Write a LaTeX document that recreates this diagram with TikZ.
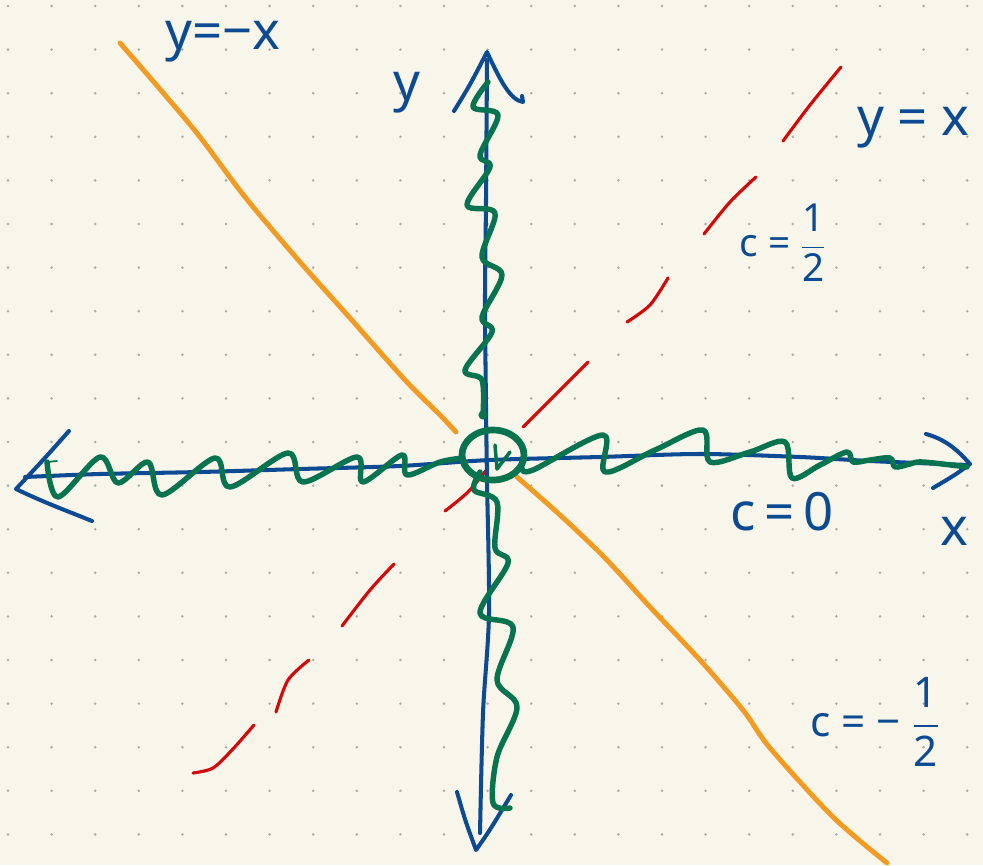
\documentclass[tikz,border=0pt]{standalone}
\usepackage{amsmath}
\usepackage{fontspec}
\setmainfont{Noto Sans}
\definecolor{bgc}{HTML}{F8F6EB}
\definecolor{dotc}{HTML}{ABABAB}
\definecolor{penblue}{HTML}{0D4A94}
\definecolor{penorange}{HTML}{F39A22}
\definecolor{pengreen}{HTML}{08734F}
\definecolor{penred}{HTML}{D10A0A}
\begin{document}
\begin{tikzpicture}[x=0.02cm,y=-0.02cm,line cap=round,line join=round,
  axisline/.style={draw=penblue,line width=2.3pt},
  orangeline/.style={draw=penorange,line width=2.8pt},
  redseg/.style={draw=penred,line width=1.8pt},
  greenwave/.style={draw=pengreen,line width=3.1pt},
  lbl/.style={text=penblue,font=\fontsize{30}{32}\selectfont,inner sep=0pt}]
% background and dot grid
\fill[bgc] (0,0) rectangle (983,865);
\useasboundingbox (0,0) rectangle (983,865);
\foreach \i in {0,...,22}{
  \foreach \j in {0,...,19}{
    \fill[dotc] ({8+43.6*\i},{6+43.6*\j}) circle (0.8pt);
  }
}
% orange line y=-x
\draw[orangeline] plot[smooth,tension=0.5] coordinates {(120,43) (165,95) (200,137) (245,197) (300,262) (350,318) (405,380) (440,415) (456,432)};
\draw[orangeline] plot[smooth,tension=0.5] coordinates {(517,477) (560,515) (605,558) (650,607) (700,660) (743,710) (770,748) (833,817) (887,863)};
% red dashed line y=x
\draw[redseg] plot[smooth] coordinates {(193,773) (213,768) (232,750) (254,725)};
\draw[redseg] plot[smooth] coordinates {(276,712) (288,680) (309,660)};
\draw[redseg] plot[smooth] coordinates {(342,626) (370,590) (394,564)};
\draw[redseg] plot[smooth] coordinates {(445,511) (468,492) (488,468)};
\draw[redseg] plot[smooth] coordinates {(523,427) (555,395) (588,362)};
\draw[redseg] plot[smooth] coordinates {(627,322) (650,305) (668,278)};
\draw[redseg] plot[smooth] coordinates {(704,234) (730,202) (756,177)};
\draw[redseg] plot[smooth] coordinates {(783,141) (810,105) (841,67)};
% blue axes
\draw[axisline] plot[smooth] coordinates {(25,477) (100,474) (200,472) (300,469) (400,466) (490,460) (600,457) (700,454) (800,457) (870,461) (968,465)};
\draw[axisline] (69,431) .. controls (45,458) .. (16,489) .. controls (45,503) and (70,512) .. (92,521);
\draw[axisline] (926,434) .. controls (948,440) and (960,453) .. (970,464) .. controls (955,475) .. (933,488);
\draw[axisline] plot[smooth] coordinates {(487,60) (486,200) (485,300) (486,407) (487,480) (489,613) (483,713) (480,833)};
\draw[axisline] (454,111) .. controls (470,85) .. (487,52) .. controls (500,80) and (510,100) .. (523,102) -- (522,96);
\draw[axisline] (457,792) .. controls (465,820) .. (476,850) .. controls (490,830) .. (511,795);
% green waves
\draw[draw=pengreen,line width=1pt] (57,461) -- (47,462);
\draw[greenwave] plot[smooth,tension=0.55] coordinates {(47,462) (58,497) (100,457) (118,483) (148,462) (162,495) (215,458) (230,487) (288,453) (303,482) (357,457) (363,482) (402,455) (407,475) (440,462) (463,458)};
\draw[greenwave] plot[smooth,tension=0.55] coordinates {(522,468) (533,470) (603,435) (605,472) (655,450) (703,430) (710,462) (750,452) (785,442) (792,478) (820,465) (847,452) (853,462) (870,460) (890,458) (895,467) (910,464) (923,462) (967,467)};
\draw[greenwave] plot[smooth,tension=0.55] coordinates {(488,82) (473,107) (498,115) (480,155) (490,167) (467,205) (495,213) (482,257) (502,275) (482,317) (492,332) (465,370) (482,380) (483,415)};
\fill[pengreen] (483,415) circle (2.6pt);
\draw[greenwave] plot[smooth,tension=0.55] coordinates {(480,472) (474,490) (497,502) (495,548) (508,563) (480,613) (513,627) (497,680) (517,707) (497,757) (493,803) (510,808)};
\draw[greenwave,line width=3.8pt] (493,455) ellipse [x radius=0.62cm,y radius=0.5cm];
\draw[greenwave,line width=2pt] (495,445) -- (497,469) -- (510,452);
% labels
\node[lbl,anchor=base west] (lneg) at (165,50) {y=−x};
\node[lbl,anchor=base west] (ly) at (393,100) {y};
\node[lbl,anchor=base west] (lyx) at (857,135) {y = x};
\node[lbl,font=\fontsize{22}{24}\selectfont] (lhalf) at (783,243) {c = $\dfrac{\text{1}}{\text{2}}$};
\node[lbl,anchor=base west] (lzero) at (730,530) {c\,=\,0};
\node[lbl,anchor=base west] (lx) at (940,545) {x};
\node[lbl,font=\fontsize{24}{26}\selectfont] (lmhalf) at (875,722) {c = − $\dfrac{\text{1}}{\text{2}}$};
\end{tikzpicture}
\end{document}
